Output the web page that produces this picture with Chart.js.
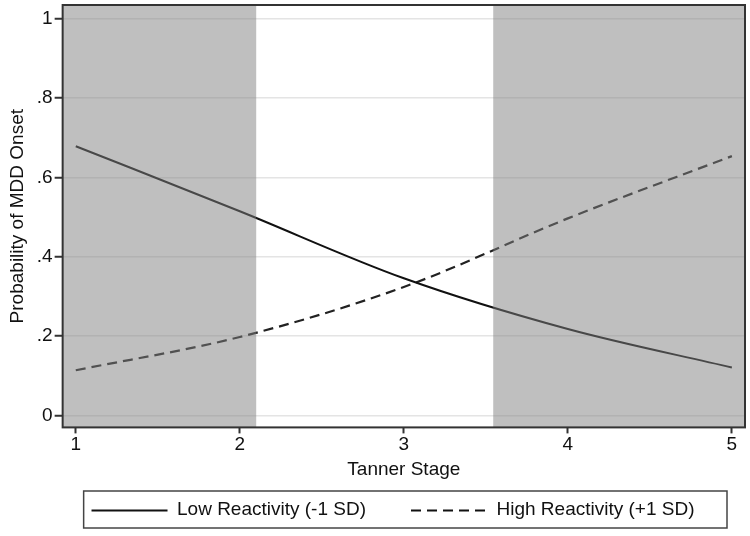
<!DOCTYPE html>
<html>
<head>
<meta charset="utf-8">
<script src="https://cdn.jsdelivr.net/npm/chart.js@4.4.0/dist/chart.umd.min.js"></script>
<style>
  html, body { margin: 0; padding: 0; background: #fff; }
  #wrap { width: 750px; height: 536px; }
</style>
</head>
<body>
<div id="wrap"><canvas id="chart" width="750" height="536"></canvas></div>
<script>
// Tanner stages and predicted probabilities
const tannerStages = [1, 2, 3, 4, 5];
const lowReactivity = [0.679, 0.515, 0.346, 0.218, 0.121];
const highReactivity = [0.114, 0.198, 0.324, 0.497, 0.654];
const yTicks = [0, 0.2, 0.4, 0.6, 0.8, 1];
// shaded stage ranges (gray bands)
const shadedBands = [[0.92, 2.1], [3.545, 5.08]];

const FONT = "'Liberation Sans', Arial, Helvetica, sans-serif";
const FONT_SIZE = 19;
const LEGEND_BOX = 111;   // legend box width, line sample sits in its right part
const LEGEND_LINE = 76;

function toPoints(vals) {
    return tannerStages.map((s, i) => ({ x: s, y: vals[i] }));
}

const bandPlugin = {
    id: 'bands',
    // gray bands go over the lines (the lines look lighter inside them)
    afterDatasetsDraw(chart) {
        const { ctx, chartArea, scales } = chart;
        ctx.save();
        ctx.beginPath();
        ctx.rect(chartArea.left, chartArea.top, chartArea.width, chartArea.height);
        ctx.clip();
        ctx.fillStyle = 'rgba(128,128,128,0.5)';
        shadedBands.forEach(b => {
            const x0 = scales.x.getPixelForValue(b[0]);
            const x1 = scales.x.getPixelForValue(b[1]);
            ctx.fillRect(x0, chartArea.top, x1 - x0, chartArea.height);
        });
        ctx.restore();
    },
    afterDraw(chart) {
        const { ctx, chartArea } = chart;
        ctx.save();
        ctx.strokeStyle = '#333';
        ctx.lineWidth = 2;
        ctx.strokeRect(chartArea.left, chartArea.top, chartArea.width, chartArea.height);

        // legend frame + line samples (dashes included)
        const lg = chart.legend;
        ctx.lineWidth = 1.5;
        ctx.strokeStyle = '#444';
        ctx.strokeRect(chartArea.left + 21, lg.top + 1, chartArea.width - 39, lg.height - 2);
        lg.legendHitBoxes.forEach((hb, i) => {
            const ds = chart.data.datasets[i];
            const y = Math.round(hb.top + hb.height / 2) + 0.5;
            ctx.lineWidth = 2;
            ctx.strokeStyle = '#111';
            ctx.setLineDash(ds.borderDash || []);
            ctx.beginPath();
            ctx.moveTo(hb.left + LEGEND_BOX - LEGEND_LINE, y);
            ctx.lineTo(hb.left + LEGEND_BOX, y);
            ctx.stroke();
        });
        ctx.restore();
    }
};

new Chart(document.getElementById('chart').getContext('2d'), {
    type: 'line',
    data: {
        datasets: [
            {
                label: 'Low Reactivity (-1 SD)',
                data: toPoints(lowReactivity),
                borderColor: '#111',
                backgroundColor: '#111',
                borderWidth: 2,
                pointRadius: 0,
                cubicInterpolationMode: 'monotone',
                fill: false
            },
            {
                label: 'High Reactivity (+1 SD)',
                data: toPoints(highReactivity),
                borderColor: '#222',
                backgroundColor: '#222',
                borderWidth: 2.2,
                borderDash: [10, 6],
                pointRadius: 0,
                cubicInterpolationMode: 'monotone',
                fill: false
            }
        ]
    },
    options: {
        responsive: false,
        animation: false,
        layout: { padding: { left: 6, right: 5, top: 5, bottom: 7 } },
        plugins: {
            tooltip: { enabled: false },
            legend: {
                position: 'bottom',
                labels: {
                    font: { family: FONT, size: FONT_SIZE },
                    color: '#111',
                    boxWidth: LEGEND_BOX,
                    boxHeight: 10,
                    padding: 10,
                    generateLabels: chart => Chart.defaults.plugins.legend.labels.generateLabels(chart)
                        .map(l => Object.assign(l, { fillStyle: 'rgba(0,0,0,0)', strokeStyle: 'rgba(0,0,0,0)' }))
                }
            }
        },
        scales: {
            x: {
                type: 'linear',
                min: 0.92,
                max: 5.08,
                afterBuildTicks: axis => { axis.ticks = tannerStages.map(v => ({ value: v })); },
                afterFit: axis => { axis.paddingLeft = 0; axis.paddingRight = 0; },
                ticks: {
                    font: { family: FONT, size: FONT_SIZE },
                    color: '#111',
                    padding: 0
                },
                grid: { drawOnChartArea: false, drawTicks: true, tickLength: 6, tickColor: '#333', tickWidth: 2 },
                border: { display: false },
                title: {
                    display: true,
                    text: 'Tanner Stage',
                    font: { family: FONT, size: FONT_SIZE },
                    color: '#111',
                    padding: { top: 2, bottom: 9 }
                }
            },
            y: {
                min: -0.03,
                max: 1.035,
                afterBuildTicks: axis => { axis.ticks = yTicks.map(v => ({ value: v })); },
                afterFit: axis => { axis.paddingTop = 0; axis.paddingBottom = 0; },
                ticks: {
                    font: { family: FONT, size: FONT_SIZE },
                    color: '#111',
                    padding: 2,
                    callback: v => v === 0 ? '0' : v === 1 ? '1' : String(v).replace(/^0/, '')
                },
                grid: { color: '#e4e4e4', lineWidth: 1.5, drawTicks: true, tickLength: 8, tickColor: '#333', tickWidth: 2 },
                border: { display: false },
                title: {
                    display: true,
                    text: 'Probability of MDD Onset',
                    font: { family: FONT, size: FONT_SIZE },
                    color: '#111',
                    padding: { top: 0, bottom: 6 }
                }
            }
        }
    },
    plugins: [bandPlugin]
});
</script>
</body>
</html>
